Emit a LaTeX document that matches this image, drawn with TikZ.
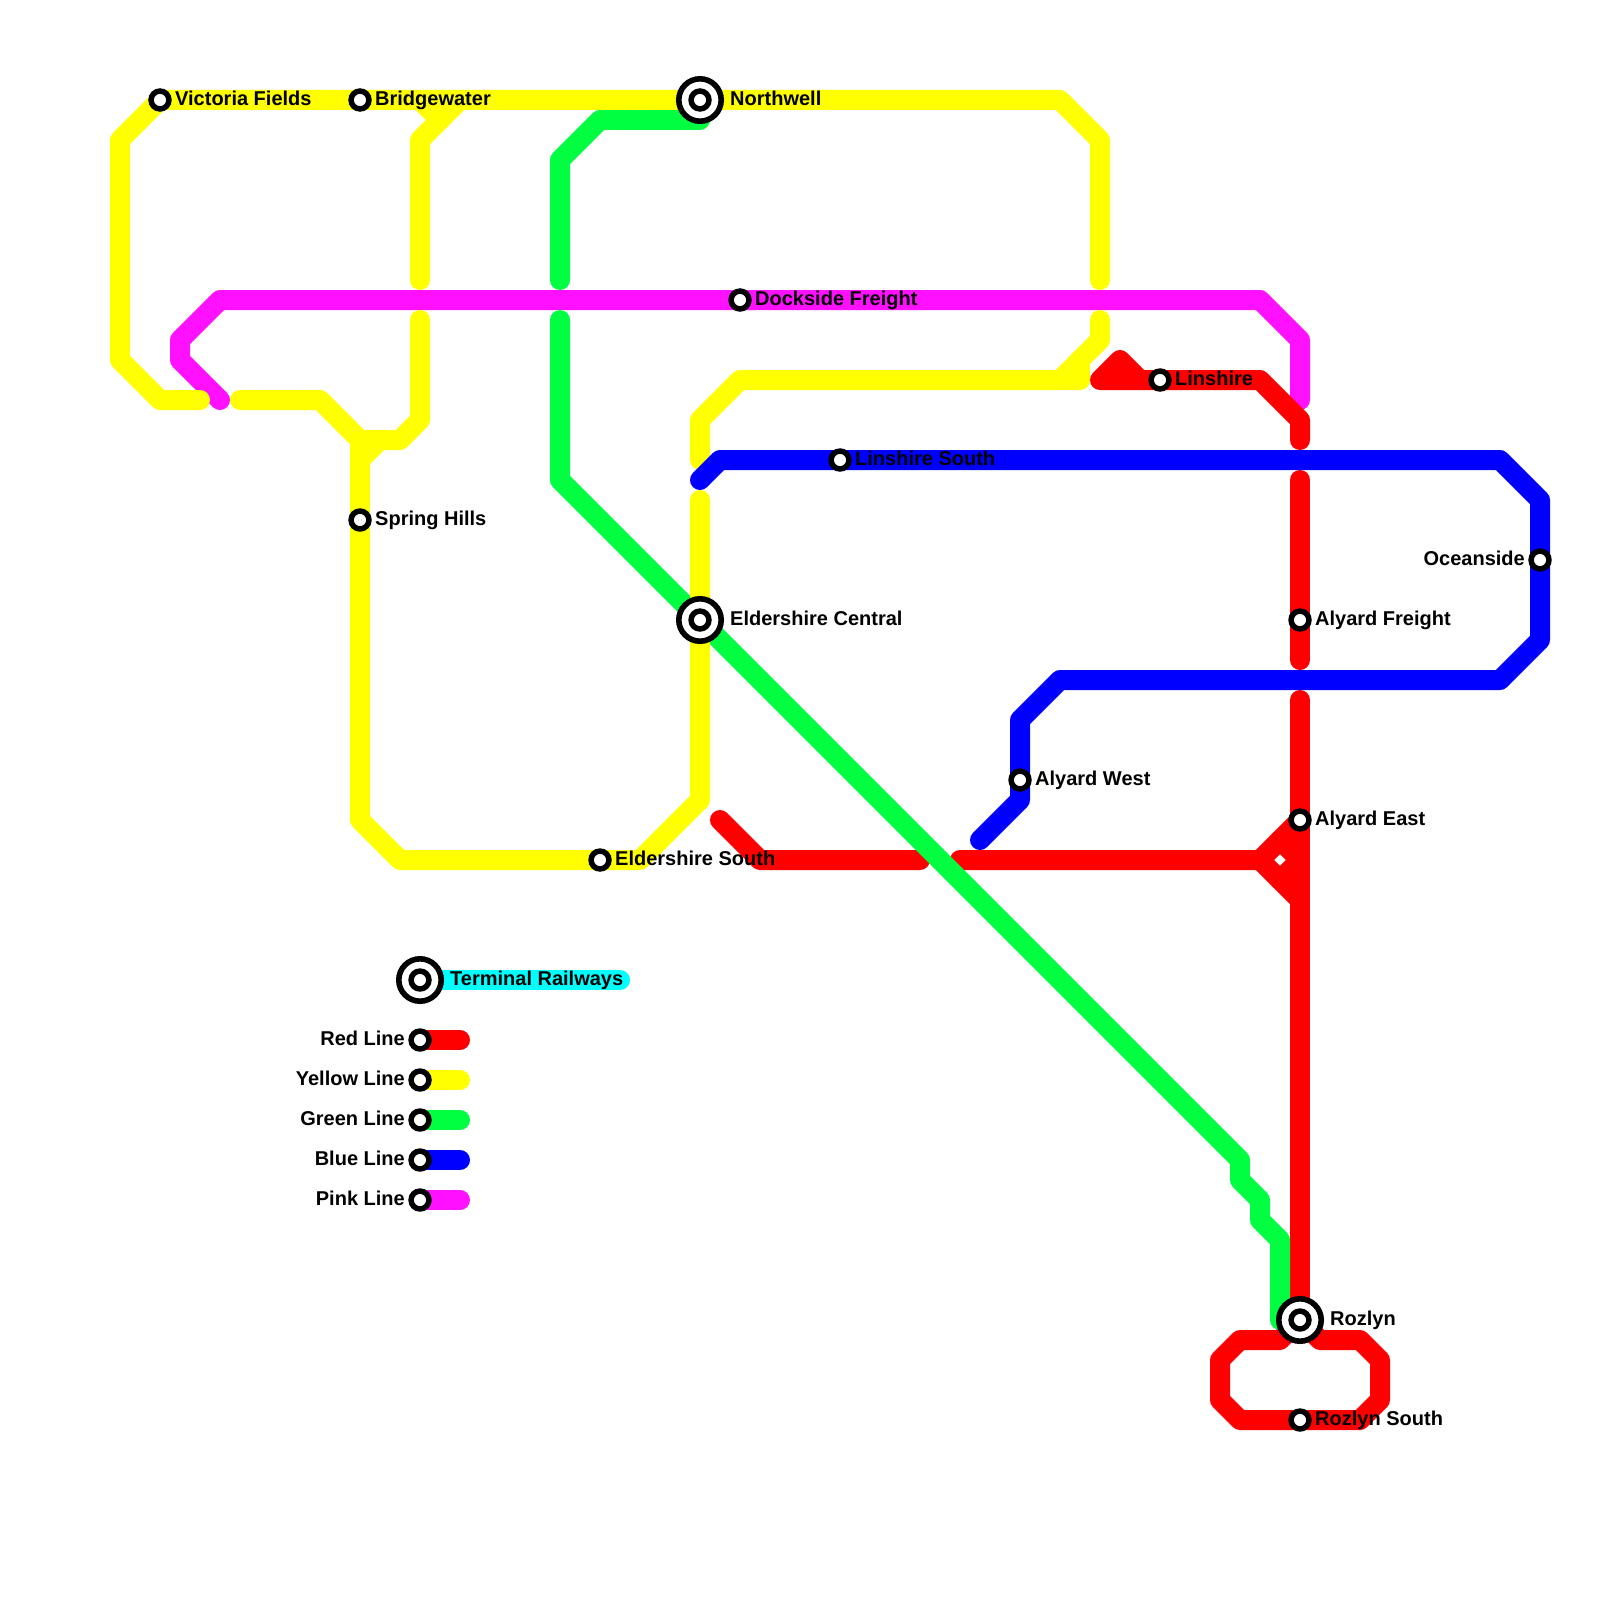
\documentclass[tikz,border=0pt]{standalone}
\usepackage{fontspec}
\setmainfont{Liberation Sans}
\usepackage{xcolor}
\usetikzlibrary{positioning, backgrounds}
\definecolor{linered}{RGB}{255,0,0}
\definecolor{lineyellow}{RGB}{255,255,0}
\definecolor{linegreen}{RGB}{0,255,64}
\definecolor{lineblue}{RGB}{0,0,255}
\definecolor{linepink}{RGB}{255,16,255}
\definecolor{linecyan}{RGB}{0,255,255}
\tikzset{
    % Route lines
    metroline/.style={line width=20pt, line cap=round, line join=round, color=#1},
    % Station markers
    stop/.style={circle, fill=white, draw=black, line width=5.5pt, minimum size=17.9pt, inner sep=0pt},
    hub/.style={circle, fill=white, draw=black, line width=5.6pt, minimum size=42.4pt, inner sep=0pt},
    % Station names
    stoplabel/.style={font=\fontsize{20}{24}\selectfont\bfseries, inner sep=0pt, text height=14.6pt, text depth=0pt, yshift=2pt},
}

\begin{document}
\begin{tikzpicture}[x=1pt, y=-1pt]
\useasboundingbox (0, 0) rectangle (1600, 1600);

% ============================================================
% Stations
% ============================================================
\node[stop] (victoria) at (160, 100) {};
\node[stop] (bridgewater) at (360, 100) {};
\node[hub] (northwell) at (700, 100) {};
\node[stop] (northwellin) at (700, 100) {};
\node[stop] (dockside) at (740, 300) {};
\node[stop] (linshire) at (1160, 380) {};
\node[stop] (linshiresouth) at (840, 460) {};
\node[stop] (spring) at (360, 520) {};
\node[stop] (oceanside) at (1540, 560) {};
\node[hub] (eldershire) at (700, 620) {};
\node[stop] (eldershirein) at (700, 620) {};
\node[stop] (freight) at (1300, 620) {};
\node[stop] (alyardwest) at (1020, 780) {};
\node[stop] (alyardeast) at (1300, 820) {};
\node[stop] (eldersouth) at (600, 860) {};
\node[hub] (rozlyn) at (1300, 1320) {};
\node[stop] (rozlynin) at (1300, 1320) {};
\node[stop] (rozlynsouth) at (1300, 1420) {};

% Legend
\node[hub] (terminal) at (420, 980) {};
\node[stop] (terminalin) at (420, 980) {};
\node[stop] (keyred) at (420, 1040) {};
\node[stop] (keyyellow) at (420, 1080) {};
\node[stop] (keygreen) at (420, 1120) {};
\node[stop] (keyblue) at (420, 1160) {};
\node[stop] (keypink) at (420, 1200) {};
\coordinate (endcyan) at (620, 980);
\coordinate (endred) at (460, 1040);
\coordinate (endyellow) at (460, 1080);
\coordinate (endgreen) at (460, 1120);
\coordinate (endblue) at (460, 1160);
\coordinate (endpink) at (460, 1200);

% ============================================================
% Station names
% ============================================================
\node[stoplabel, right=3.3pt of victoria] (victorianame) {Victoria Fields};
\node[stoplabel, right=3.3pt of bridgewater] (bridgewatername) {Bridgewater};
\node[stoplabel, right=6pt of northwell] (northwellname) {Northwell};
\node[stoplabel, right=3.3pt of dockside] (docksidename) {Dockside Freight};
\node[stoplabel, right=3.3pt of linshire] (linshirename) {Linshire};
\node[stoplabel, right=3.3pt of linshiresouth] (linshiresouthname) {Linshire South};
\node[stoplabel, right=3.3pt of spring] (springname) {Spring Hills};
\node[stoplabel, left=3.3pt of oceanside] (oceansidename) {Oceanside};
\node[stoplabel, right=6pt of eldershire] (eldershirename) {Eldershire Central};
\node[stoplabel, right=3.3pt of freight] (freightname) {Alyard Freight};
\node[stoplabel, right=3.3pt of alyardwest] (alyardwestname) {Alyard West};
\node[stoplabel, right=3.3pt of alyardeast] (alyardeastname) {Alyard East};
\node[stoplabel, right=3.3pt of eldersouth] (eldersouthname) {Eldershire South};
\node[stoplabel, right=6pt of rozlyn] (rozlynname) {Rozlyn};
\node[stoplabel, right=3.3pt of rozlynsouth] (rozlynsouthname) {Rozlyn South};
\node[stoplabel, right=6pt of terminal] (terminalname) {Terminal Railways};
\node[stoplabel, left=3.3pt of keyred] (keyredname) {Red Line};
\node[stoplabel, left=3.3pt of keyyellow] (keyyellowname) {Yellow Line};
\node[stoplabel, left=3.3pt of keygreen] (keygreenname) {Green Line};
\node[stoplabel, left=3.3pt of keyblue] (keybluename) {Blue Line};
\node[stoplabel, left=3.3pt of keypink] (keypinkname) {Pink Line};

\begin{scope}[on background layer]
% ============================================================
% Pink line
% ============================================================
\draw[metroline=linepink] (220, 400) -- (180, 360) -- (180, 340) -- (220, 300) -- (dockside.center) -- (1260, 300) -- (1300, 340) -- (1300, 400);
\draw[metroline=linepink] (keypink.center) -- (endpink);

% ============================================================
% Red line
% ============================================================
\draw[metroline=linered] (1100, 380) -- (1120, 360) -- (1140, 380) -- (1100, 380);
\draw[metroline=linered] (1140, 380) -- (linshire.center) -- (1260, 380) -- (1300, 420) -- (1300, 440);
\draw[metroline=linered] (1300, 480) -- (freight.center) -- (1300, 660);
\draw[metroline=linered] (1300, 700) -- (alyardeast.center) -- (rozlyn.center);
\draw[metroline=linered] (720, 820) -- (760, 860) -- (920, 860);
\draw[metroline=linered] (960, 860) -- (1260, 860) -- (alyardeast.center);
\draw[metroline=linered] (1260, 860) -- (1300, 900);
\draw[metroline=linered] (1280, 840) -- (1300, 860) -- (1280, 880);
\draw[metroline=linered] (rozlyn.center) -- (1280, 1340) -- (1240, 1340) -- (1220, 1360) -- (1220, 1400) -- (1240, 1420) -- (rozlynsouth.center) -- (1360, 1420) -- (1380, 1400) -- (1380, 1360) -- (1360, 1340) -- (1320, 1340) -- (rozlyn.center);
\draw[metroline=linered] (keyred.center) -- (endred);

% ============================================================
% Green line
% ============================================================
\draw[metroline=linegreen] (northwell.center) ++(0, 20) -- (600, 120) -- (560, 160) -- (560, 280);
\draw[metroline=linegreen] (560, 320) -- (560, 480) -- (eldershire.center) -- (1240, 1160) -- (1240, 1180) -- (1260, 1200) -- (1260, 1220) -- (1280, 1240) -- (1280, 1320);
\draw[metroline=linegreen] (keygreen.center) -- (endgreen);

% ============================================================
% Yellow line
% ============================================================
\draw[metroline=lineyellow] (200, 400) -- (160, 400) -- (120, 360) -- (120, 140) -- (victoria.center) -- (bridgewater.center) -- (northwell.center) -- (1060, 100) -- (1100, 140) -- (1100, 280);
\draw[metroline=lineyellow] (420, 100) -- (440, 120);
\draw[metroline=lineyellow] (460, 100) -- (420, 140) -- (420, 280);
\draw[metroline=lineyellow] (240, 400) -- (320, 400) -- (360, 440) -- (spring.center) -- (360, 820) -- (400, 860) -- (eldersouth.center) -- (640, 860) -- (700, 800) -- (eldershire.center) -- (700, 500);
\draw[metroline=lineyellow] (380, 440) -- (360, 460);
\draw[metroline=lineyellow] (360, 440) -- (400, 440) -- (420, 420) -- (420, 320);
\draw[metroline=lineyellow] (1100, 320) -- (1100, 340) -- (1060, 380) -- (740, 380) -- (700, 420) -- (700, 460);
\draw[metroline=lineyellow] (1060, 380) -- (1080, 380) -- (1080, 360);
\draw[metroline=lineyellow] (keyyellow.center) -- (endyellow);

% ============================================================
% Blue line
% ============================================================
\draw[metroline=lineblue] (700, 480) -- (720, 460) -- (linshiresouth.center) -- (1500, 460) -- (1540, 500) -- (oceanside.center) -- (1540, 640) -- (1500, 680) -- (1060, 680) -- (1020, 720) -- (alyardwest.center) -- (1020, 800) -- (980, 840);
\draw[metroline=lineblue] (keyblue.center) -- (endblue);

% Terminal bar
\draw[metroline=linecyan] (terminal.center) -- (endcyan);
\end{scope}

\end{tikzpicture}
\end{document}
